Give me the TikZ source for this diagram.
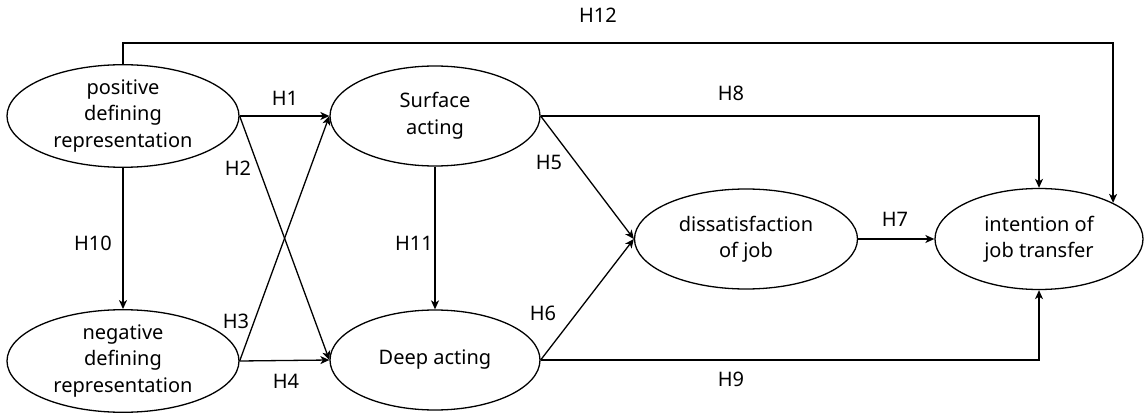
\documentclass[tikz,border=0pt]{standalone}
\usepackage{fontspec}
\setmainfont{Noto Sans}
\usetikzlibrary{shapes.geometric,arrows.meta}
\begin{document}
\begin{tikzpicture}[x=1pt,y=-1pt,
  ell/.style={draw,ellipse,line width=1.3pt,inner sep=0pt,align=center,
    font=\fontsize{20}{26.5}\selectfont},
  arr/.style={line width=1.3pt,-{Stealth[length=9pt,width=8pt,inset=2.5pt]}},
  lab/.style={font=\fontsize{20}{22}\selectfont,inner sep=0pt}]
\useasboundingbox (0,0) rectangle (1148,414);
\node[ell,minimum width=232pt,minimum height=101pt] (pos) at (123,116) {positive\\defining\\representation};
\node[ell,minimum width=232pt,minimum height=101pt] (neg) at (123,361) {negative\\defining\\representation};
\node[ell,minimum width=210pt,minimum height=100pt] (sur) at (435,116) {Surface\\acting};
\node[ell,minimum width=210pt,minimum height=100pt] (deep) at (435,360) {Deep acting};
\node[ell,minimum width=223pt,minimum height=100pt] (dis) at (746,239) {dissatisfaction\\of job};
\node[ell,minimum width=208pt,minimum height=101pt] (int) at (1039,239) {intention of\\job transfer};
\coordinate (top) at (0,43);
\coordinate (h12) at (int.26);
\draw[arr] (pos.north) |- (h12 |- top) -- (h12);
\draw[arr] (sur.east) -| (int.north);
\draw[arr] (deep.east) -| (int.south);
\draw[arr] (pos.south) -- (neg.north);
\draw[arr] (sur.south) -- (deep.north);
\draw[arr] (pos.east) -- (sur.west);
\draw[arr] (neg.east) -- (deep.west);
\draw[arr] (pos.east) -- (deep.west);
\draw[arr] (neg.east) -- (sur.west);
\draw[arr] (sur.east) -- (dis.west);
\draw[arr] (deep.east) -- (dis.west);
\draw[arr] (dis.east) -- (int.west);
\node[lab] (l12) at (598,15) {H12};
\node[lab] (l1) at (285,98) {H1};
\node[lab] (l2) at (238,168) {H2};
\node[lab] (l10) at (93,243) {H10};
\node[lab] (l3) at (236,321) {H3};
\node[lab] (l4) at (286,381) {H4};
\node[lab] (l11) at (414,243) {H11};
\node[lab] (l5) at (549,162) {H5};
\node[lab] (l6) at (543,313) {H6};
\node[lab] (l8) at (731,93) {H8};
\node[lab] (l9) at (731,379) {H9};
\node[lab] (l7) at (895,219) {H7};
\end{tikzpicture}
\end{document}
